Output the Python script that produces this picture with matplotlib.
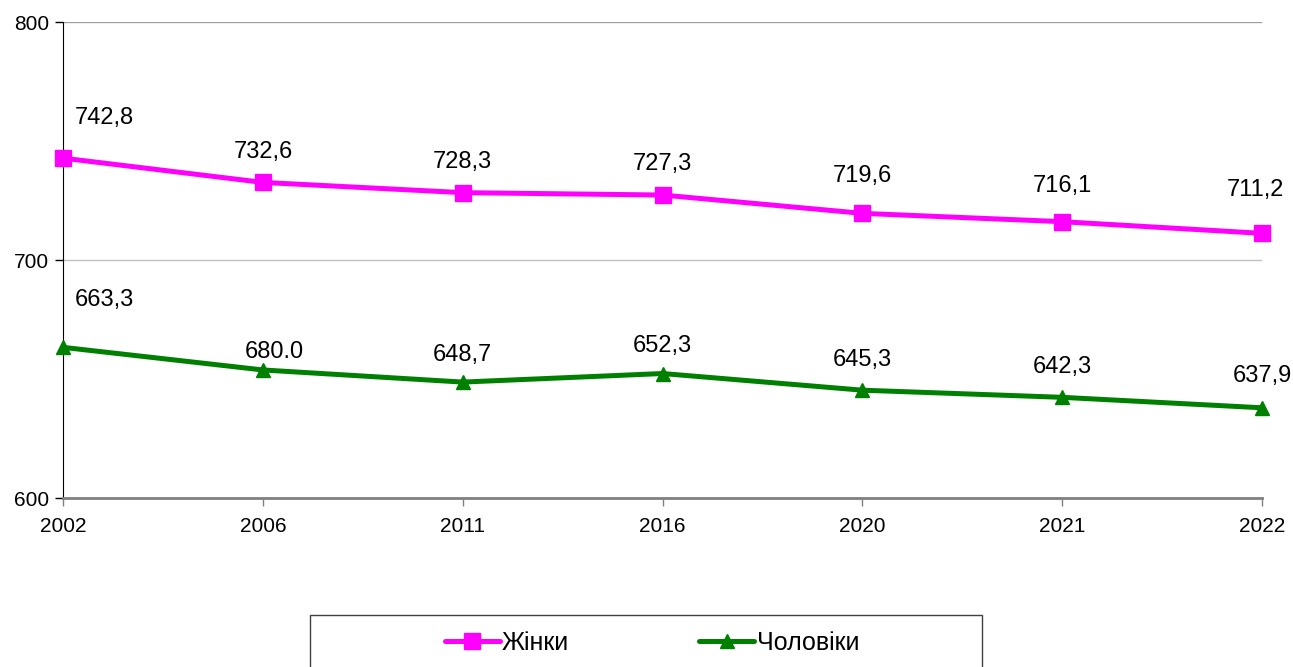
import matplotlib
matplotlib.use("Agg")
import matplotlib.pyplot as plt
from matplotlib.patches import Rectangle

plt.rcParams['font.family'] = ['Liberation Sans', 'DejaVu Sans']

years = ["2002", "2006", "2011", "2016", "2020", "2021", "2022"]
women = [742.8, 732.6, 728.3, 727.3, 719.6, 716.1, 711.2]
men = [663.3, 653.8, 648.7, 652.3, 645.3, 642.3, 637.9]
women_labels = ["742,8", "732,6", "728,3", "727,3", "719,6", "716,1", "711,2"]
men_labels = ["663,3", "680.0", "648,7", "652,3", "645,3", "642,3", "637,9"]

# label offsets in pixels (dx, dy) as placed in the original
women_off = [(41, 40), (1, 30), (0, 31), (0, 31), (0, 37), (0, 36), (-7, 43)]
men_off = [(41, 47), (11, 18), (0, 27), (0, 28), (0, 30), (0, 30), (0, 32)]

W, H = 1293, 667
fig = plt.figure(figsize=(W / 100, H / 100), dpi=100)
ax = fig.add_axes([63 / W, 1 - 498 / H, (1262 - 63) / W, (498 - 22) / H])

x = list(range(len(years)))
ax.plot(x, women, color='#FF00FF', lw=3.6, marker='s', ms=12,
        label='Жінки', solid_capstyle='round', zorder=3, clip_on=False)
ax.plot(x, men, color='#008000', lw=3.6, marker='^', ms=10,
        label='Чоловіки', solid_capstyle='round', zorder=3, clip_on=False)

for vals, labs, offs in [(women, women_labels, women_off), (men, men_labels, men_off)]:
    for i, (v, t, (dx, dy)) in enumerate(zip(vals, labs, offs)):
        ax.annotate(t, (i, v), xytext=(dx * 0.72, dy * 0.72), textcoords='offset points',
                    ha='center', va='center', fontsize=17, color='black')

ax.set_xlim(0, len(years) - 1)
ax.set_ylim(600, 800)
ax.set_yticks([600, 700, 800])
ax.set_xticks(x)
ax.set_xticklabels(years)
ax.tick_params(axis='y', labelsize=15, length=6, width=1, color='black', pad=4)
ax.tick_params(axis='x', labelsize=15, length=6, width=1, color='#808080', pad=8)
ax.grid(axis='y', color='#c0c0c0', lw=1)
ax.set_axisbelow(True)
for s in ['top', 'right']:
    ax.spines[s].set_visible(False)
ax.spines['left'].set_color('black')
ax.spines['bottom'].set_color('#808080')
ax.spines['bottom'].set_linewidth(2)
ax.axhline(800, color='#a0a0a0', lw=1.5, zorder=1)

fig.patches.append(Rectangle((310 / W, -0.05), (982 - 310) / W, 0.05 + 1 - 615 / H,
                             transform=fig.transFigure, fill=False,
                             edgecolor='#404040', lw=1))
fig.legend(loc='center', bbox_to_anchor=(652 / W, 1 - 643 / H), ncol=2, frameon=False,
           fontsize=18, handlelength=2.2, columnspacing=5.2, handletextpad=0.1)

fig.savefig('out.png', dpi=100)
